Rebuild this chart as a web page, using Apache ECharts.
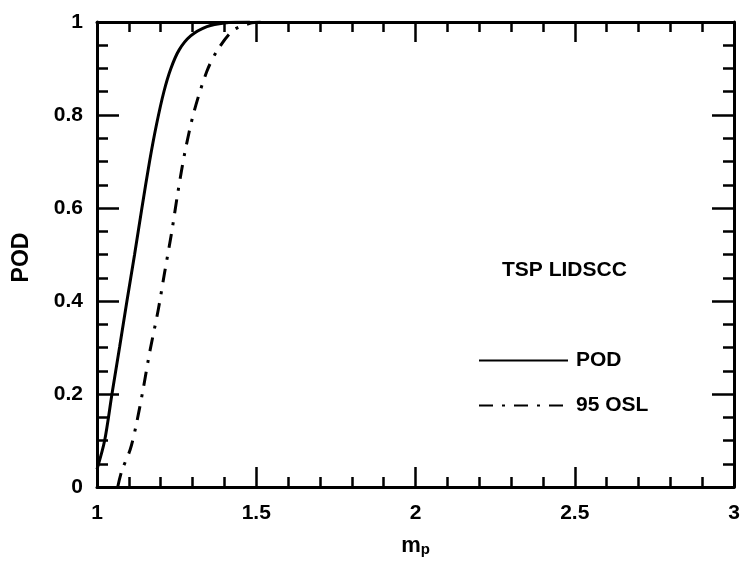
<!DOCTYPE html>
<html>
<head>
<meta charset="utf-8">
<script src="https://cdn.jsdelivr.net/npm/echarts@6/dist/echarts.min.js"></script>
<style>
  html, body { margin: 0; padding: 0; background: #fff; }
  #chart { width: 745px; height: 562px; }
</style>
</head>
<body>
<div id="chart"></div>
<script>
// Probability of detection curve vs. m_p
const podX = [1.0, 1.024, 1.047, 1.071, 1.094, 1.118, 1.141, 1.165, 1.187, 1.21, 1.232, 1.258, 1.294, 1.345, 1.40, 1.48];
const podY = [0.038, 0.1, 0.2, 0.301, 0.4, 0.5, 0.6, 0.7, 0.78, 0.85, 0.9, 0.94, 0.97, 0.99, 0.998, 1.0];

// 95% one-sided lower confidence bound
const oslX = [1.065, 1.078, 1.104, 1.122, 1.144, 1.166, 1.192, 1.212, 1.235, 1.254, 1.276, 1.305, 1.345, 1.377, 1.427, 1.48, 1.52];
const oslY = [0.0, 0.035, 0.08, 0.13, 0.207, 0.292, 0.38, 0.46, 0.55, 0.634, 0.72, 0.808, 0.894, 0.938, 0.982, 0.997, 1.0];

const xTicks = { min: 1, max: 3, interval: 0.5 };
const yTicks = { min: 0, max: 1, interval: 0.2 };

const seriesNames = ['POD', '95 OSL'];
const titleText = 'TSP LIDSCC';

const FONT = '"Liberation Sans", Arial, Helvetica, sans-serif';
const INK = '#000';

function zip(xs, ys) { return xs.map((x, i) => [x, ys[i]]); }

const axisLine = { show: true, onZero: false, lineStyle: { color: INK, width: 3 } };

function xAxisDef(pos, labels) {
  return {
    type: 'value', position: pos, min: xTicks.min, max: xTicks.max, interval: xTicks.interval,
    axisLine: axisLine,
    axisTick: { show: true, inside: true, length: 20, lineStyle: { color: INK, width: 2.5 } },
    minorTick: { show: true, splitNumber: 5, length: 10, lineStyle: { color: INK, width: 2.5 } },
    splitLine: { show: false },
    axisLabel: { show: labels, margin: 16, color: INK, fontFamily: FONT, fontWeight: 'bold', fontSize: 21 }
  };
}
function yAxisDef(pos, labels) {
  return {
    type: 'value', position: pos, min: yTicks.min, max: yTicks.max, interval: yTicks.interval,
    axisLine: axisLine,
    axisTick: { show: true, inside: true, length: 22, lineStyle: { color: INK, width: 2.5 } },
    minorTick: { show: true, splitNumber: 4, length: 11, lineStyle: { color: INK, width: 2.5 } },
    splitLine: { show: false },
    axisLabel: { show: labels, margin: 14, color: INK, fontFamily: FONT, fontWeight: 'bold', fontSize: 21 }
  };
}

const xMain = xAxisDef('bottom', true);
xMain.name = '{m|m}{p|p}';
xMain.nameLocation = 'middle';
xMain.nameGap = 44;
xMain.nameTextStyle = {
  color: INK, fontFamily: FONT, fontWeight: 'bold',
  rich: {
    m: { fontSize: 22, fontWeight: 'bold', fontFamily: FONT, color: INK, lineHeight: 26, verticalAlign: 'bottom' },
    p: { fontSize: 15, fontWeight: 'bold', fontFamily: FONT, color: INK, lineHeight: 20, verticalAlign: 'bottom', padding: [8, 0, 0, 0] }
  }
};

const yMain = yAxisDef('left', true);
yMain.name = 'POD';
yMain.nameLocation = 'middle';
yMain.nameGap = 64;
yMain.nameRotate = 90;
yMain.nameTextStyle = { color: INK, fontFamily: FONT, fontWeight: 'bold', fontSize: 23, padding: [0, 6, 0, 0] };

const chart = echarts.init(document.getElementById('chart'), null, { renderer: 'canvas' });
chart.setOption({
  animation: false,
  backgroundColor: '#fff',
  color: [INK, INK],
  grid: { left: 97, right: 11, top: 22, bottom: 74 },
  title: {
    text: titleText, left: 497, top: 255,
    textStyle: { color: INK, fontFamily: FONT, fontWeight: 'bold', fontSize: 21 }
  },
  legend: {
    data: seriesNames, orient: 'vertical', left: 478, top: 350, padding: 0,
    itemWidth: 89, itemHeight: 20, itemGap: 24,
    itemStyle: { opacity: 0 },
    textStyle: { color: INK, fontFamily: FONT, fontWeight: 'bold', fontSize: 21, padding: [0, 0, 0, 3] }
  },
  xAxis: [xMain, xAxisDef('top', false)],
  yAxis: [yMain, yAxisDef('right', false)],
  series: [
    {
      name: seriesNames[0], type: 'line', data: zip(podX, podY),
      symbol: 'none', smooth: 0.3, clip: true,
      itemStyle: { color: INK },
      lineStyle: { color: INK, width: 3, type: 'solid' }
    },
    {
      name: seriesNames[1], type: 'line', data: zip(oslX, oslY),
      symbol: 'none', smooth: 0.3, clip: true,
      itemStyle: { color: INK },
      lineStyle: { color: INK, width: 3, type: [14, 9, 3, 9] }
    }
  ]
});
</script>
</body>
</html>
